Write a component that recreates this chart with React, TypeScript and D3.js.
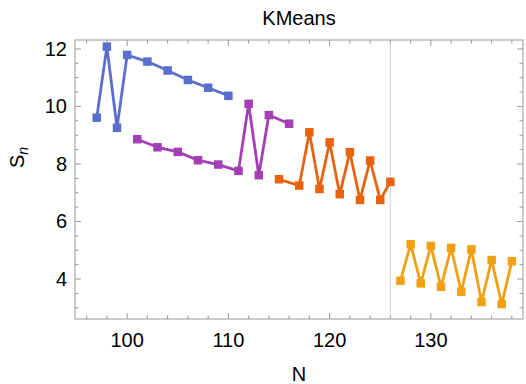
import React from "react";
import * as d3 from "d3";

const blueN = [97, 98, 99, 100, 102, 104, 106, 108, 110];
const blueS = [9.61, 12.08, 9.26, 11.79, 11.56, 11.25, 10.92, 10.65, 10.37];
const purpleN = [101, 103, 105, 107, 109, 111, 112, 113, 114, 116];
const purpleS = [8.86, 8.58, 8.42, 8.13, 7.98, 7.76, 10.09, 7.61, 9.7, 9.4];
const redN = [115, 117, 118, 119, 120, 121, 122, 123, 124, 125, 126];
const redS = [7.47, 7.25, 9.1, 7.13, 8.75, 6.95, 8.41, 6.75, 8.12, 6.75, 7.38];
const orangeN = [127, 128, 129, 130, 131, 132, 133, 134, 135, 136, 137, 138];
const orangeS = [3.94, 5.21, 3.85, 5.15, 3.73, 5.08, 3.56, 5.03, 3.2, 4.66, 3.13, 4.62];

const xMajor = [100, 110, 120, 130];
const xMinor = [96, 98, 102, 104, 106, 108, 112, 114, 116, 118, 122, 124, 126, 128, 132, 134, 136, 138];
const yMajor = [4, 6, 8, 10, 12];
const yMinor = [3, 3.5, 4.5, 5, 5.5, 6.5, 7, 7.5, 8.5, 9, 9.5, 10.5, 11, 11.5];
const splitN = 126;

const W = 526, H = 384;
const L = 75, R = 523, T = 40, B = 319;

export default function App() {
  const x = d3.scaleLinear().domain([94.85, 139.1]).range([L, R]);
  const y = d3.scaleLinear().domain([2.61, 12.31]).range([B, T]);
  const series = [
    { n: blueN, s: blueS, c: "#5a6fcc" },
    { n: purpleN, s: purpleS, c: "#a43eb4" },
    { n: redN, s: redS, c: "#e8620f" },
    { n: orangeN, s: orangeS, c: "#f0a012" },
  ];
  const line = d3.line<[number, number]>().x((d) => x(d[0])).y((d) => y(d[1]));
  const frame = "#999";
  const font = "'Liberation Sans', Arial, sans-serif";
  const ms = 8.5;
  return (
    <svg width={W} height={H} style={{ position: "absolute", left: 0, top: 0 }} fontFamily={font}>
      <rect x={0} y={0} width={W} height={H} fill="#fff" />
      <line x1={x(splitN)} x2={x(splitN)} y1={T} y2={B} stroke="#d0d0d0" strokeWidth={1} />
      {series.map((se, i) => {
        const pts = se.n.map((n, j) => [n, se.s[j]] as [number, number]);
        return (
          <g key={i}>
            <path d={line(pts) || ""} fill="none" stroke={se.c} strokeWidth={2.8} strokeLinejoin="round" />
            {pts.map((p, j) => (
              <rect key={j} x={x(p[0]) - ms / 2} y={y(p[1]) - ms / 2} width={ms} height={ms} fill={se.c} />
            ))}
          </g>
        );
      })}
      <rect x={L} y={T} width={R - L} height={B - T} fill="none" stroke={frame} strokeWidth={1} />
      {xMajor.map((v) => (
        <g key={"xM" + v}>
          <line x1={x(v)} x2={x(v)} y1={B} y2={B - 6} stroke={frame} />
          <line x1={x(v)} x2={x(v)} y1={T} y2={T + 6} stroke={frame} />
          <text x={x(v)} y={346.5} fontSize={20} textAnchor="middle" fill="#000">{v}</text>
        </g>
      ))}
      {xMinor.map((v) => (
        <g key={"xm" + v}>
          <line x1={x(v)} x2={x(v)} y1={B} y2={B - 3.5} stroke={frame} />
          <line x1={x(v)} x2={x(v)} y1={T} y2={T + 3.5} stroke={frame} />
        </g>
      ))}
      {yMajor.map((v) => (
        <g key={"yM" + v}>
          <line x1={L} x2={L + 6} y1={y(v)} y2={y(v)} stroke={frame} />
          <line x1={R} x2={R - 6} y1={y(v)} y2={y(v)} stroke={frame} />
          <text x={67} y={y(v) + 7} fontSize={20} textAnchor="end" fill="#000">{v}</text>
        </g>
      ))}
      {yMinor.map((v) => (
        <g key={"ym" + v}>
          <line x1={L} x2={L + 3.5} y1={y(v)} y2={y(v)} stroke={frame} />
          <line x1={R} x2={R - 3.5} y1={y(v)} y2={y(v)} stroke={frame} />
        </g>
      ))}
      <text x={(L + R) / 2} y={25} fontSize={20} textAnchor="middle" fill="#000">KMeans</text>
      <text x={(L + R) / 2} y={381} fontSize={20} textAnchor="middle" fill="#000">N</text>
      <text transform="translate(24,168) rotate(-90)" fontSize={20} fill="#000">
        S<tspan fontSize={14} fontStyle="italic" dy={4}>n</tspan>
      </text>
    </svg>
  );
}
